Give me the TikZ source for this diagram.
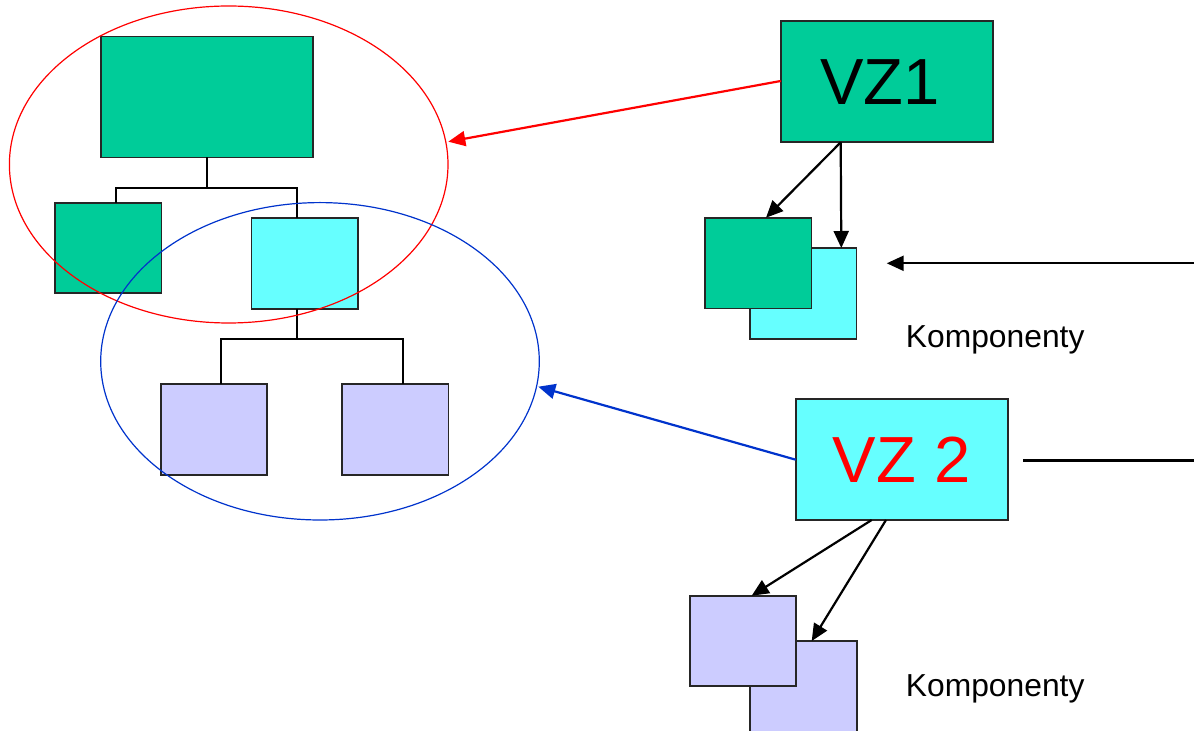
\documentclass[tikz,border=0pt]{standalone}
\usepackage{fontspec}
\setmainfont{Liberation Sans}
\usetikzlibrary{arrows.meta,calc}
\definecolor{vzgreen}{HTML}{00CC99}
\definecolor{vzcyan}{HTML}{66FFFF}
\definecolor{vzlav}{HTML}{CCCCFF}
\definecolor{vzblue}{HTML}{0033CC}
\begin{document}
\begin{tikzpicture}[x=0.5pt,y=-0.5pt,
  box/.style={draw=black!85, line width=0.95pt, inner sep=0pt, outer sep=0pt},
  bigbox/.style={box, minimum width=106pt, minimum height=60.5pt},
  smallbox/.style={box, minimum width=53.2pt, minimum height=45.3pt},
  tree/.style={line width=1.1pt, black},
  tip/.style={line width=1.1pt, -{Triangle[length=8.5pt,width=7.5pt]}},
  bigtext/.style={font=\fontsize{32.6pt}{39pt}\selectfont},
  comptext/.style={font=\fontsize{15.9pt}{19pt}\selectfont, anchor=base west, inner sep=0pt},
  group/.style={line width=0.6pt}
]
\useasboundingbox (0,0) rectangle (1194,731);

% left hierarchy
\node[bigbox, fill=vzgreen] (top) at (206.7,97) {};
\node[smallbox, fill=vzgreen] (lg) at (108.3,248) {};
\node[smallbox, fill=vzcyan] (cy) at (304.7,263.7) {};
\node[smallbox, fill=vzlav] (lv1) at (213.8,429.3) {};
\node[smallbox, fill=vzlav] (lv2) at (395.3,429.3) {};

\coordinate (j1) at (206.7,187.7);
\coordinate (j2) at (297,339);
\draw[tree] (top.south) -- (j1);
\draw[tree] ($(lg.north)+(7.4,0)$) |- (j1) -| ($(cy.north)+(-7.7,0)$);
\draw[tree] ($(cy.south)+(-7.7,0)$) -- (j2);
\draw[tree] ($(lv1.north)+(7.5,0)$) |- (j2) -| ($(lv2.north)+(7.4,0)$);

% grouping ellipses
\draw[group, red] (228.7,164.5) ellipse [x radius=219.3, y radius=158.5];
\draw[group, vzblue] (320,361.3) ellipse [x radius=219.3, y radius=158.7];

% VZ1
\node[bigbox, fill=vzgreen, bigtext] (vz1) at (886.7,81.7) {VZ1\kern6.9pt};
\node[smallbox, fill=vzcyan] (c1c) at (803.3,293.5) {};
\node[smallbox, fill=vzgreen] (c1g) at (758.3,263.2) {};
\coordinate (v1a) at (840.7,142.3);
\draw[tip] (v1a) -- (766,217.7);
\draw[tip] (v1a) -- (841.3,248);
\draw[tip, red] (vz1.west |- 0,81) -- (448.3,141.7);
\coordinate (r1) at (1194,263.3);
\coordinate (r1t) at (886.7,263.3);
\draw[tip] (r1) -- (r1t);
\node[comptext] (k1) at (905.5,348) {Komponenty};

% VZ2
\node[bigbox, fill=vzcyan, bigtext, text=red] (vz2) at (901.7,459.7) {VZ 2};
\node[smallbox, fill=vzlav] (c2b) at (803.5,686.3) {};
\node[smallbox, fill=vzlav] (c2f) at (743.2,641) {};
\draw[tip] (871.7,520) -- (c2f.north -| 751.7,0);
\draw[tip] (886,520) -- (c2b.north -| 811.7,0);
\draw[tip, vzblue] (vz2.west) -- (538.3,386.7);
\coordinate (r2a) at (1023,460.5);
\coordinate (r2b) at (1194,460.5);
\draw[line width=1.1pt] (r2a) -- (r2b);
\node[comptext] (k2) at (905.5,697) {Komponenty};
\end{tikzpicture}
\end{document}
